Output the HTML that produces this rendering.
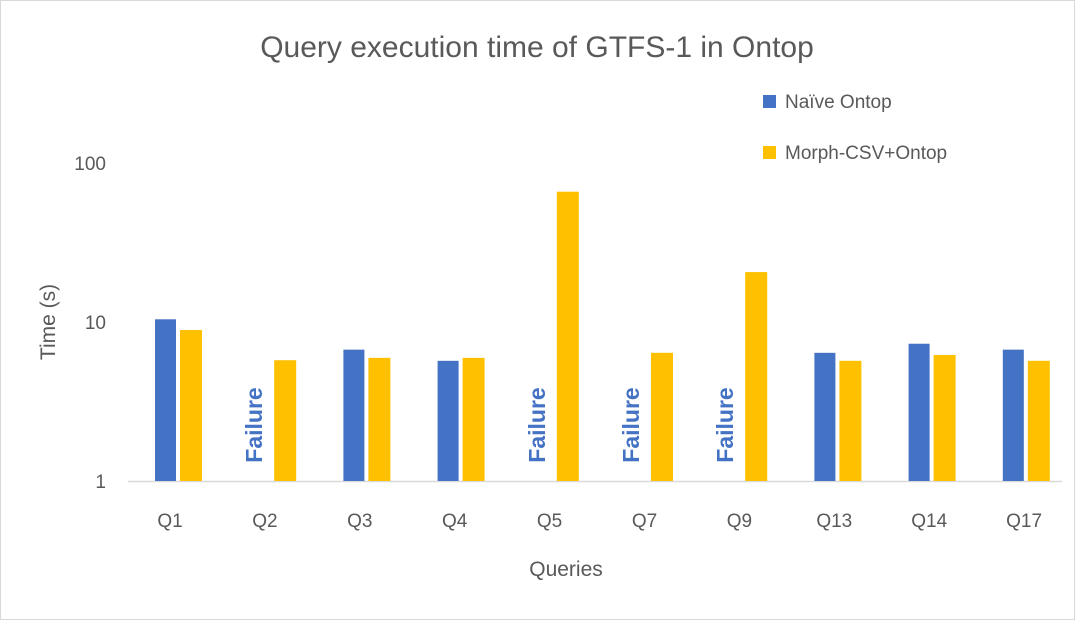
<!DOCTYPE html>
<html><head><meta charset="utf-8"><style>
body{margin:0;background:#fff;}
svg{display:block;font-family:"Liberation Sans",sans-serif;}
</style></head><body>
<svg width="1075" height="620" viewBox="0 0 1075 620">
<rect x="0.5" y="0.5" width="1074" height="619" fill="#fff" stroke="#d9d9d9"/>
<text x="537" y="57" text-anchor="middle" font-size="30" fill="#595959">Query execution time of GTFS-1 in Ontop</text>
<g id="plot"></g>
<text x="566" y="576" text-anchor="middle" font-size="21" fill="#595959">Queries</text>
<text transform="translate(55,322) rotate(-90)" text-anchor="middle" font-size="21" fill="#595959">Time (s)</text>
<g>
<rect x="763" y="95" width="13" height="13" fill="#4472c4"/>
<text x="785" y="108" font-size="19" fill="#595959">Naïve Ontop</text>
<rect x="763" y="146" width="13" height="13" fill="#ffc000"/>
<text x="785" y="159" font-size="19" fill="#595959">Morph-CSV+Ontop</text>
</g>
</svg>
<script>
const categories=["Q1","Q2","Q3","Q4","Q5","Q7","Q9","Q13","Q14","Q17"];
const naive=[10.4,null,6.7,5.7,null,null,null,6.4,7.3,6.7];
const morph=[8.9,5.75,5.95,5.95,66,6.4,20.6,5.7,6.2,5.7];
const yTicks=[1,10,100];
const ns="http://www.w3.org/2000/svg";
const g=document.getElementById("plot");
const y=v=>481-159*Math.log10(v);
const xc=i=>178+i*94.2;
const xl=i=>170+i*94.9;
function mk(t,a){const e=document.createElementNS(ns,t);for(const k in a)e.setAttribute(k,a[k]);g.appendChild(e);return e;}
const ax=mk("line",{x1:128,x2:1062,y1:481.5,y2:481.5,stroke:"#d9d9d9","stroke-width":1.5});


yTicks.forEach(t=>{const e=mk("text",{x:106,y:y(t)+7,"text-anchor":"end","font-size":19,fill:"#595959"});e.textContent=t;

});
categories.forEach((c,i)=>{
const x=xc(i);
const l=mk("text",{x:xl(i),y:527,"text-anchor":"middle","font-size":19,fill:"#595959"});l.textContent=c;


if(naive[i]!=null){const b=mk("rect",{x:x-23,y:y(naive[i]),width:21,height:481-y(naive[i]),fill:"#4472c4"});

}
else{const f=mk("text",{transform:`translate(${x-10},425) rotate(-90)`,"text-anchor":"middle","font-size":23,"font-weight":"bold",fill:"#4472c4"});f.textContent="Failure";

}
if(morph[i]!=null){const b=mk("rect",{x:x+2,y:y(morph[i]),width:22,height:481-y(morph[i]),fill:"#ffc000"});

}
});
</script>
</body></html>
